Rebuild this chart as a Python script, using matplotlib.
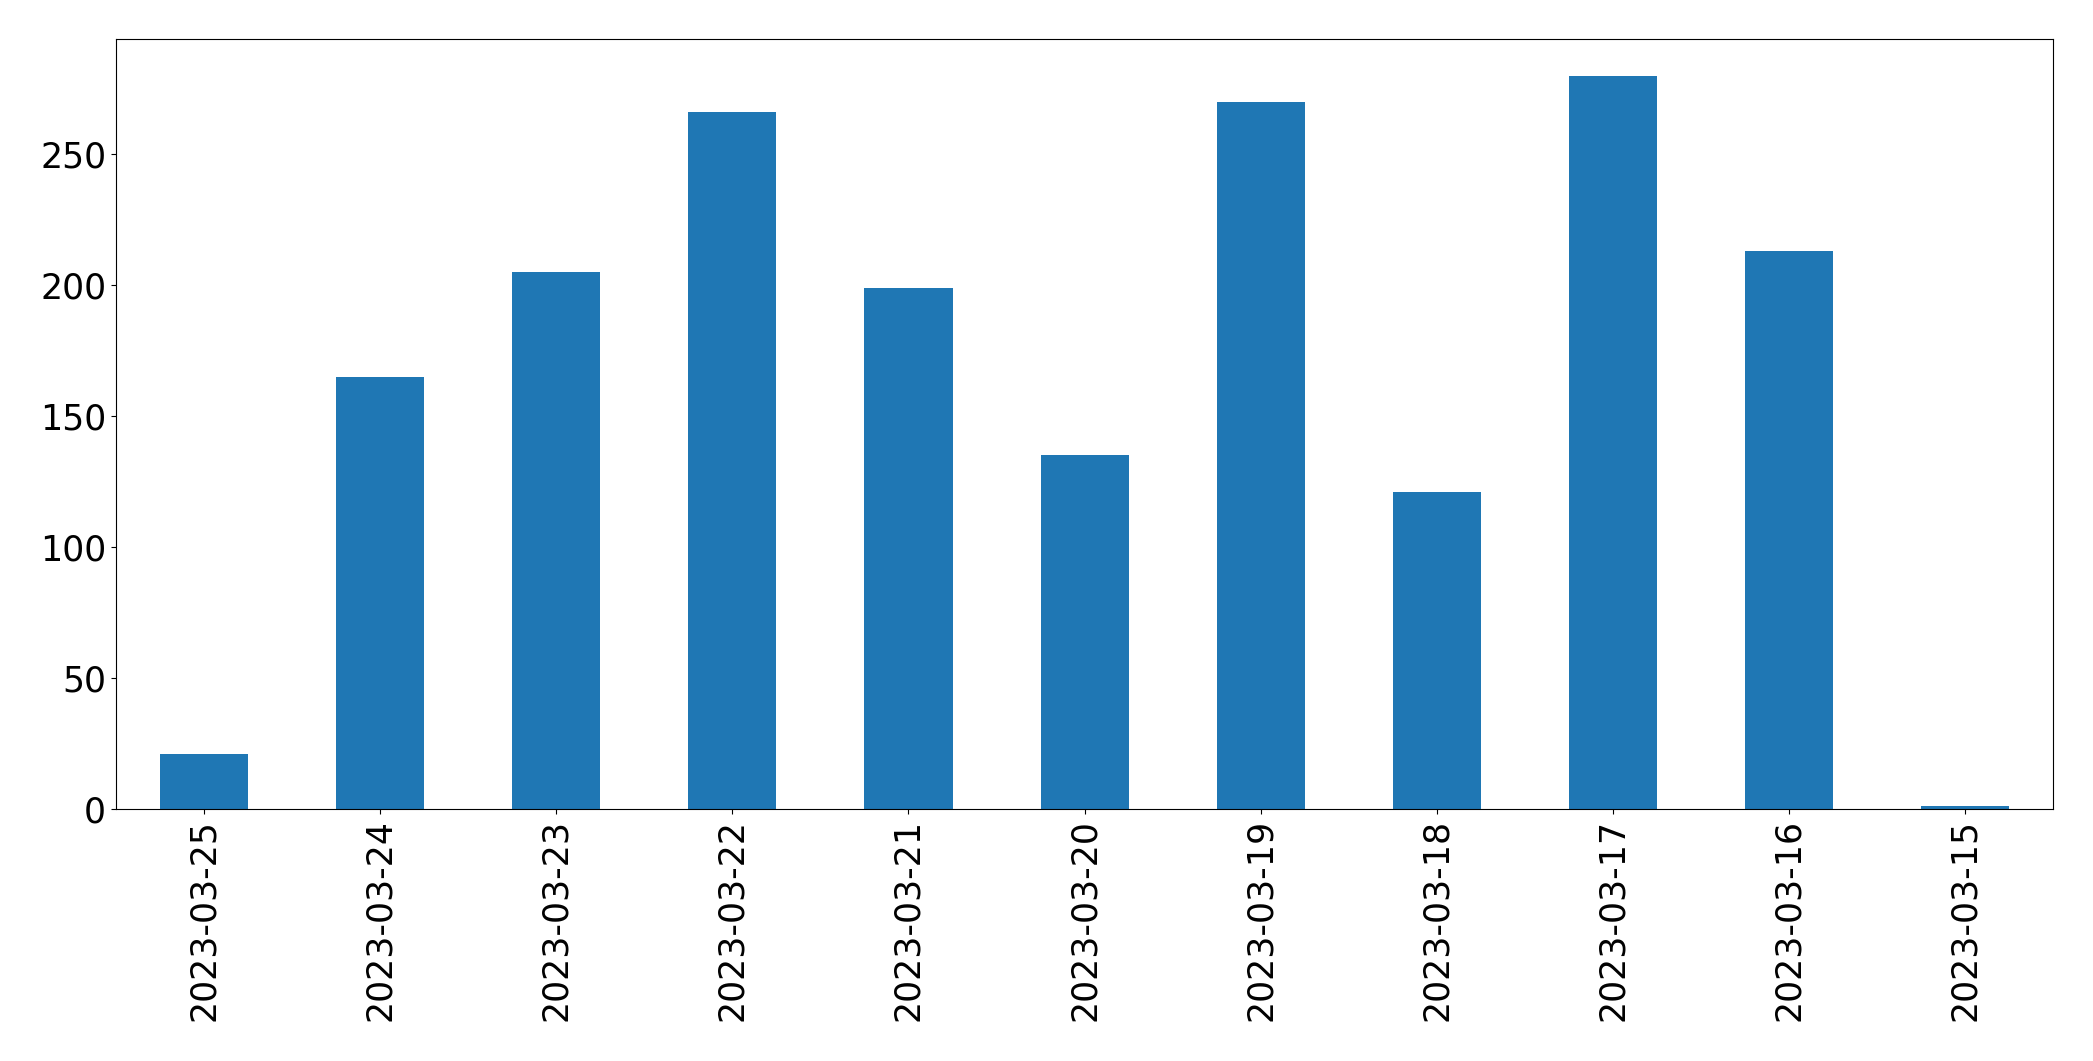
import matplotlib
matplotlib.use('Agg')
import matplotlib.pyplot as plt

dates = ['2023-03-25', '2023-03-24', '2023-03-23', '2023-03-22', '2023-03-21',
         '2023-03-20', '2023-03-19', '2023-03-18', '2023-03-17', '2023-03-16',
         '2023-03-15']
counts = [21, 165, 205, 266, 199, 135, 270, 121, 280, 213, 1]

plt.rcParams['font.size'] = 25

fig = plt.figure(figsize=(20.93, 10.61), dpi=100)
ax = fig.add_axes([0.0554, 0.2375, 0.9256, 0.7257])

x = range(len(dates))
ax.bar(x, counts, width=0.5, color='#1f77b4')
ax.set_xlim(-0.5, len(dates) - 0.5)
ax.set_xticks(list(x))
ax.set_xticklabels(dates, rotation=90)

fig.savefig('out.png', dpi=100)
